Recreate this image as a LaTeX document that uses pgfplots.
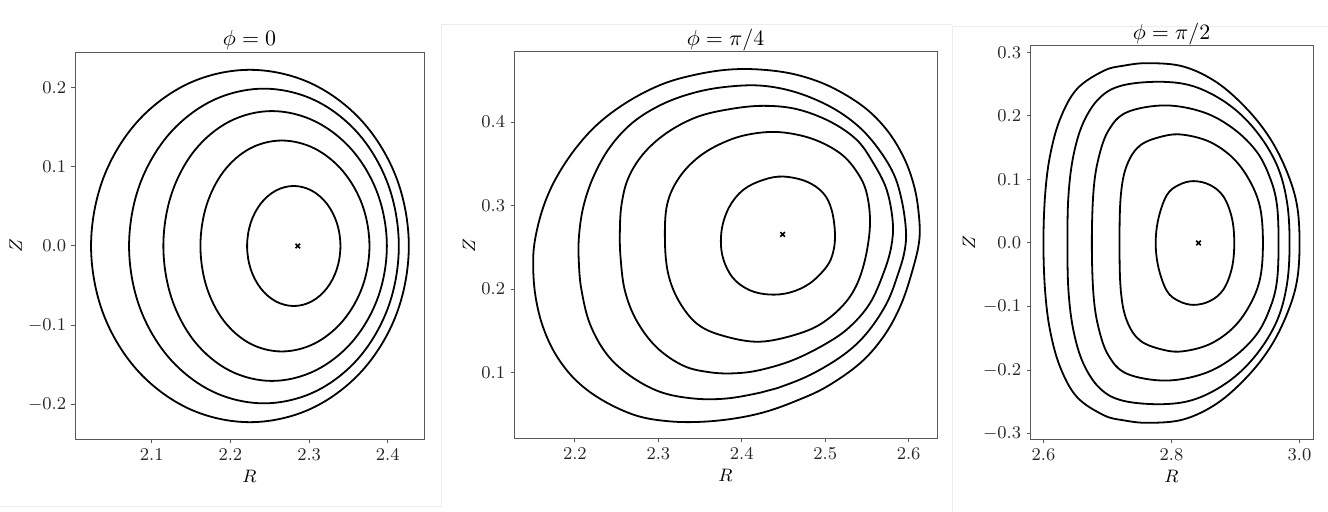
\documentclass[border=0pt]{standalone}
\usepackage{pgfplots}
\pgfplotsset{compat=1.18}

\pgfplotsset{
  fluxaxis/.style={
    scale only axis, anchor=south west,
    axis line style={black!65, line width=0.5pt},
    tick style={black!65, line width=0.5pt},
    major tick length=1.75pt,
    tick align=outside,
    xtick pos=left, ytick pos=left,
    tick label style={font=\fontsize{9.5}{11}\selectfont, text=black!85},
    xticklabel style={anchor=north, inner sep=0pt, yshift=-2.4pt,
      /pgf/number format/.cd, fixed, fixed zerofill, precision=1},
    yticklabel style={anchor=east, inner sep=0pt, xshift=-2.5pt,
      /pgf/number format/.cd, fixed, fixed zerofill, precision=1},
    label style={font=\fontsize{9.5}{11}\selectfont},
    xlabel style={at={([yshift=-21.5pt]axis description cs:0.5,0)}, anchor=base},
    title style={font=\fontsize{11.4}{13}\selectfont,
      at={([yshift=3.2pt]axis description cs:0.5,1)}, anchor=base, yshift=-6pt},
    xlabel={$R$}, ylabel={$Z$},
  },
  cont/.style={black, line width=0.9pt, smooth cycle, tension=0.6, mark=none},
  axmark/.style={only marks, mark=x, mark size=1.6pt, mark options={black, line width=0.8pt}},
}

\begin{document}
\begin{tikzpicture}
\path[use as bounding box] (0,0) rectangle (664pt,256pt);

% faint panel frames of the composite image
\draw[black!7, line width=0.5pt] (0,2.5pt) -- (220.5pt,2.5pt) -- (220.5pt,243.5pt) -- (476pt,243.5pt);
\draw[black!7, line width=0.5pt] (476pt,0) -- (476pt,242.5pt) -- (664pt,242.5pt);

% phi = 0
\begin{axis}[fluxaxis,
  at={(37.5pt,36pt)}, width=174.5pt, height=194pt,
  xmin=2.0025, xmax=2.446, ymin=-0.245, ymax=0.245,
  xtick={2.1,2.2,2.3,2.4}, ytick={-0.2,-0.1,0,0.1,0.2},
  ylabel style={at={([xshift=-26.5pt]axis description cs:0,0.5)}, anchor=base},
  title={$\phi=0$}]
\addplot[cont] coordinates {(2.4267,0) (2.4113,0.0852) (2.3676,0.1573) (2.3021,0.2056) (2.2248,0.2225) (2.1475,0.2056) (2.0820,0.1573) (2.0383,0.0852) (2.0229,0) (2.0383,-0.0852) (2.0820,-0.1573) (2.1475,-0.2056) (2.2248,-0.2225) (2.3021,-0.2056) (2.3676,-0.1573) (2.4113,-0.0852)};
\addplot[cont] coordinates {(2.4140,0) (2.4010,0.0760) (2.3638,0.1405) (2.3082,0.1836) (2.2426,0.1987) (2.1770,0.1836) (2.1214,0.1405) (2.0842,0.0760) (2.0712,0) (2.0842,-0.0760) (2.1214,-0.1405) (2.1770,-0.1836) (2.2426,-0.1987) (2.3082,-0.1836) (2.3638,-0.1405) (2.4010,-0.0760)};
\addplot[cont] coordinates {(2.3988,0) (2.3874,0.0652) (2.3552,0.1205) (2.3077,0.1574) (2.2528,0.1704) (2.1991,0.1574) (2.1544,0.1205) (2.1250,0.0652) (2.1148,0) (2.1250,-0.0652) (2.1544,-0.1205) (2.1991,-0.1574) (2.2528,-0.1704) (2.3077,-0.1574) (2.3552,-0.1205) (2.3874,-0.0652)};
\addplot[cont] coordinates {(2.3767,0) (2.3679,0.0510) (2.3432,0.0942) (2.3070,0.1231) (2.2653,0.1332) (2.2248,0.1231) (2.1914,0.0942) (2.1695,0.0510) (2.1619,0) (2.1695,-0.0510) (2.1914,-0.0942) (2.2248,-0.1231) (2.2653,-0.1332) (2.3070,-0.1231) (2.3432,-0.0942) (2.3679,-0.0510)};
\addplot[cont] coordinates {(2.3398,0) (2.3353,0.0290) (2.3224,0.0536) (2.3032,0.0700) (2.2805,0.0758) (2.2578,0.0700) (2.2386,0.0536) (2.2257,0.0290) (2.2212,0) (2.2257,-0.0290) (2.2386,-0.0536) (2.2578,-0.0700) (2.2805,-0.0758) (2.3032,-0.0700) (2.3224,-0.0536) (2.3353,-0.0290)};
\addplot[axmark] coordinates {(2.2856,0)};
\end{axis}

% phi = pi/4
\begin{axis}[fluxaxis,
  at={(257pt,36.5pt)}, width=211.5pt, height=193.5pt,
  xmin=2.127, xmax=2.634, ymin=0.0205, ymax=0.484,
  xtick={2.2,2.3,2.4,2.5,2.6}, ytick={0.1,0.2,0.3,0.4},
  ylabel style={at={([xshift=-19.5pt]axis description cs:0,0.5)}, anchor=base},
  title={$\phi=\pi/4$}]
\addplot[cont] coordinates {(2.6128,0.2589) (2.6116,0.2949) (2.6056,0.3269) (2.5936,0.3588) (2.5737,0.3908) (2.5456,0.4187) (2.5057,0.4427) (2.4657,0.4567) (2.4257,0.4627) (2.3858,0.4630) (2.3459,0.4571) (2.3059,0.4459) (2.2659,0.4260) (2.2300,0.4000) (2.2020,0.3700) (2.1780,0.3340) (2.1620,0.2980) (2.1520,0.2580) (2.1500,0.2260) (2.1530,0.1900) (2.1620,0.1540) (2.1780,0.1200) (2.2020,0.0900) (2.2340,0.0664) (2.2740,0.0484) (2.3140,0.0416) (2.3540,0.0412) (2.3940,0.0455) (2.4300,0.0535) (2.4660,0.0665) (2.5017,0.0831) (2.5416,0.1111) (2.5698,0.1430) (2.5898,0.1790) (2.6036,0.2190)};
\addplot[cont] coordinates {(2.5968,0.2700) (2.5916,0.3069) (2.5816,0.3389) (2.5617,0.3708) (2.5377,0.3968) (2.5057,0.4187) (2.4657,0.4355) (2.4257,0.4435) (2.3858,0.4427) (2.3459,0.4360) (2.3059,0.4220) (2.2699,0.4000) (2.2420,0.3700) (2.2220,0.3341) (2.2100,0.2981) (2.2048,0.2622) (2.2048,0.2302) (2.2080,0.1982) (2.2180,0.1583) (2.2380,0.1223) (2.2659,0.0964) (2.3019,0.0770) (2.3419,0.0690) (2.3818,0.0690) (2.4218,0.0759) (2.4418,0.0812) (2.4817,0.0971) (2.5217,0.1211) (2.5497,0.1471) (2.5737,0.1830) (2.5876,0.2190) (2.5950,0.2450)};
\addplot[cont] coordinates {(2.5810,0.2800) (2.5737,0.3189) (2.5577,0.3509) (2.5377,0.3788) (2.5057,0.4007) (2.4657,0.4156) (2.4257,0.4195) (2.3858,0.4156) (2.3459,0.4060) (2.3099,0.3870) (2.2820,0.3620) (2.2640,0.3330) (2.2560,0.3020) (2.2539,0.2702) (2.2547,0.2382) (2.2599,0.1982) (2.2739,0.1623) (2.2979,0.1303) (2.3299,0.1083) (2.3618,0.1004) (2.3918,0.0992) (2.4218,0.1031) (2.4617,0.1151) (2.5017,0.1351) (2.5297,0.1550) (2.5536,0.1830) (2.5698,0.2190) (2.5790,0.2500)};
\addplot[cont] coordinates {(2.5536,0.2750) (2.5497,0.3149) (2.5377,0.3408) (2.5177,0.3628) (2.4857,0.3796) (2.4497,0.3876) (2.4178,0.3868) (2.3858,0.3788) (2.3520,0.3610) (2.3260,0.3350) (2.3107,0.3021) (2.3079,0.2582) (2.3119,0.2180) (2.3250,0.1850) (2.3470,0.1580) (2.3780,0.1440) (2.4218,0.1370) (2.4697,0.1471) (2.5017,0.1630) (2.5297,0.1910) (2.5456,0.2269)};
\addplot[cont] coordinates {(2.5117,0.2669) (2.5077,0.2949) (2.4977,0.3149) (2.4777,0.3288) (2.4497,0.3348) (2.4257,0.3308) (2.4018,0.3189) (2.3848,0.2980) (2.3758,0.2700) (2.3768,0.2400) (2.3888,0.2142) (2.4088,0.1990) (2.4330,0.1935) (2.4580,0.1960) (2.4817,0.2070) (2.5017,0.2269) (2.5097,0.2450)};
\addplot[axmark] coordinates {(2.4490,0.2655)};
\end{axis}

% phi = pi/2
\begin{axis}[fluxaxis,
  at={(515pt,36pt)}, width=141.5pt, height=197pt,
  xmin=2.579, xmax=3.021, ymin=-0.31, ymax=0.31,
  xtick={2.6,2.8,3.0}, ytick={-0.3,-0.2,-0.1,0,0.1,0.2,0.3},
  ylabel style={at={([xshift=-27.5pt]axis description cs:0,0.5)}, anchor=base},
  title={$\phi=\pi/2$}]
\addplot[cont] coordinates {(3.0000,0) (2.9959,0.0599) (2.9803,0.1120) (2.9542,0.1641) (2.9178,0.2109) (2.8709,0.2526) (2.8188,0.2776) (2.7641,0.2830) (2.7250,0.2790) (2.6938,0.2708) (2.6522,0.2422) (2.6261,0.1953) (2.6104,0.1380) (2.6026,0.0755) (2.6000,0) (2.6026,-0.0755) (2.6104,-0.1380) (2.6261,-0.1953) (2.6522,-0.2422) (2.6938,-0.2708) (2.7250,-0.2790) (2.7641,-0.2830) (2.8188,-0.2776) (2.8709,-0.2526) (2.9178,-0.2109) (2.9542,-0.1641) (2.9803,-0.1120) (2.9959,-0.0599)};
\addplot[cont] coordinates {(2.9844,0) (2.9803,0.0651) (2.9647,0.1224) (2.9334,0.1745) (2.8917,0.2161) (2.8397,0.2448) (2.7875,0.2536) (2.7250,0.2484) (2.6886,0.2292) (2.6625,0.1900) (2.6469,0.1380) (2.6391,0.0755) (2.6375,0) (2.6391,-0.0755) (2.6469,-0.1380) (2.6625,-0.1900) (2.6886,-0.2292) (2.7250,-0.2484) (2.7875,-0.2536) (2.8397,-0.2448) (2.8917,-0.2161) (2.9334,-0.1745) (2.9647,-0.1224) (2.9803,-0.0651)};
\addplot[cont] coordinates {(2.9672,0) (2.9647,0.0599) (2.9542,0.1016) (2.9334,0.1432) (2.8969,0.1797) (2.8500,0.2057) (2.7900,0.2165) (2.7303,0.2057) (2.7016,0.1771) (2.6859,0.1328) (2.6781,0.0807) (2.6756,0) (2.6781,-0.0807) (2.6859,-0.1328) (2.7016,-0.1771) (2.7303,-0.2057) (2.7900,-0.2165) (2.8500,-0.2057) (2.8969,-0.1797) (2.9334,-0.1432) (2.9542,-0.1016) (2.9647,-0.0599)};
\addplot[cont] coordinates {(2.9428,0) (2.9386,0.0547) (2.9230,0.0963) (2.8969,0.1328) (2.8605,0.1588) (2.8188,0.1703) (2.7875,0.1682) (2.7511,0.1536) (2.7303,0.1224) (2.7209,0.0755) (2.7188,0) (2.7209,-0.0755) (2.7303,-0.1224) (2.7511,-0.1536) (2.7875,-0.1682) (2.8188,-0.1703) (2.8605,-0.1588) (2.8969,-0.1328) (2.9230,-0.0963) (2.9386,-0.0547)};
\addplot[cont] coordinates {(2.8980,0) (2.8944,0.0390) (2.8813,0.0729) (2.8605,0.0911) (2.8344,0.0974) (2.8109,0.0911) (2.7928,0.0755) (2.7797,0.0390) (2.7753,0) (2.7797,-0.0390) (2.7928,-0.0755) (2.8109,-0.0911) (2.8344,-0.0974) (2.8605,-0.0911) (2.8813,-0.0729) (2.8944,-0.0390)};
\addplot[axmark] coordinates {(2.8422,0)};
\end{axis}
\end{tikzpicture}
\end{document}
